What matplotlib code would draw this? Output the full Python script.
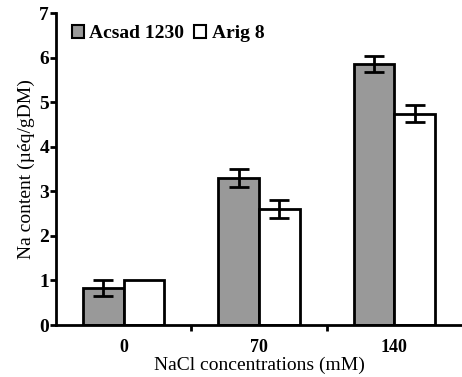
import matplotlib
matplotlib.use("Agg")
import matplotlib.pyplot as plt
import numpy as np

categories = ["0", "70", "140"]
acsad = [0.84, 3.3, 5.85]
acsad_err = [0.18, 0.2, 0.18]
arig = [1.0, 2.6, 4.74]
arig_err = [0.0, 0.2, 0.19]

plt.rcParams['font.family'] = ['Liberation Serif', 'DejaVu Serif']

fig = plt.figure(figsize=(4.62, 3.77), dpi=100)
ax = fig.add_axes([56/462, 1-325/377, 1-56/462, (325-13)/377])

x = np.arange(len(categories))
w = 0.3
ax.bar(x - w/2, acsad, w, color='#999999', edgecolor='black', linewidth=2, label='Acsad 1230', zorder=2)
ax.bar(x + w/2, arig, w, color='white', edgecolor='black', linewidth=2, label='Arig 8', zorder=2)
ax.errorbar(x - w/2, acsad, yerr=acsad_err, fmt='none', ecolor='black', elinewidth=2, capsize=7, capthick=2, zorder=3)
ae = np.array(arig_err)
mask = ae > 0
ax.errorbar((x + w/2)[mask], np.array(arig)[mask], yerr=ae[mask], fmt='none', ecolor='black', elinewidth=2, capsize=7, capthick=2, zorder=3)

ax.set_xlim(-0.5, 2.5)
ax.set_ylim(0, 7)
ax.set_yticks(range(8))
ax.set_xticks(x)
ax.set_xticklabels(categories, fontweight='bold', fontsize=13)
ax.set_xticks([0.5, 1.5], minor=True)
ax.tick_params(axis='x', which='major', length=0, pad=10)
ax.tick_params(axis='x', which='minor', length=4, width=2, direction='out')
ax.tick_params(axis='y', length=4, width=2, direction='out', labelsize=14, pad=1)
for lbl in ax.get_yticklabels():
    lbl.set_fontweight('bold')
ax.spines['top'].set_visible(False)
ax.spines['right'].set_visible(False)
ax.spines['left'].set_linewidth(2)
ax.spines['bottom'].set_linewidth(2)

ax.set_xlabel('NaCl concentrations (mM)', fontsize=14, labelpad=0)
ax.xaxis.set_label_coords(0.5, -0.1)
ax.xaxis.label.set_va('top')
ax.set_ylabel('Na content (µéq/gDM)', fontsize=14, labelpad=3)

leg = ax.legend(loc='upper left', bbox_to_anchor=(0.02, 0.985), ncol=2, frameon=False,
                fontsize=14, handlelength=0.6, handleheight=0.6, handletextpad=0.3,
                columnspacing=0.5, borderaxespad=0)
for t in leg.get_texts():
    t.set_fontweight('bold')
for h in leg.legend_handles:
    h.set_linewidth(1.5)

fig.savefig('out.png', dpi=100)
